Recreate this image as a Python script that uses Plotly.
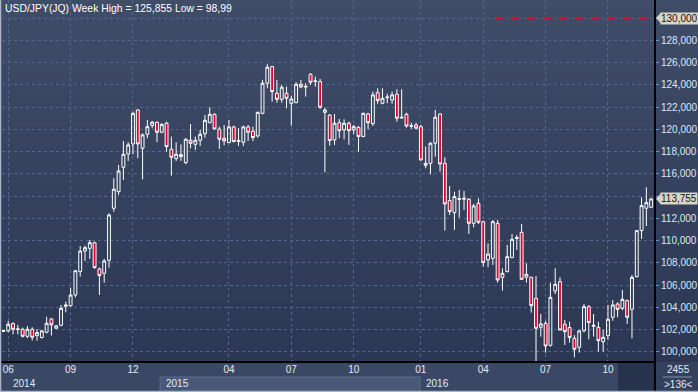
import pandas as pd
import plotly.graph_objects as go

title_text = "USD/JPY(JQ) Week High = 125,855 Low = 98,99"

# Weekly bars (Monday dates) plus three short year-end bars shown by the source
weeks = pd.date_range("2014-05-26", "2016-12-05", freq="7D").strftime("%Y-%m-%d").tolist()
i = weeks.index("2014-12-29") + 1
weeks[i:i] = ["2014-12-31", "2015-01-02"]
j = weeks.index("2015-12-28") + 1
weeks[j:j] = ["2015-12-31"]

opens = [101.85, 101.89, 102.55, 102.02, 102.04, 101.41, 102.04, 101.47, 101.29, 101.77,
         102.97, 102.13, 102.40, 104.10, 104.16, 105.12, 107.22, 109.07, 109.31, 109.82,
         107.46, 107.07, 108.24, 112.91, 114.40, 116.59, 117.79, 118.69, 121.74, 118.30,
         119.56, 120.34, 120.64, 119.74, 120.55, 118.21, 117.37, 117.73, 117.01, 119.02,
         118.66, 119.02, 119.62, 120.60, 121.35, 120.02, 119.20, 118.81, 120.22, 118.92,
         118.84, 120.22, 119.83, 119.41, 121.44, 124.14, 125.64, 123.24, 122.70, 123.24,
         122.34, 122.40, 124.05, 123.80, 124.95, 124.30, 124.29, 121.53, 121.29, 119.05,
         120.60, 119.95, 120.54, 119.95, 120.18, 119.35, 121.38, 120.51, 123.30, 122.34,
         122.85, 122.64, 123.15, 121.02, 121.35, 120.28, 120.39, 120.24, 116.77, 116.95,
         118.75, 121.38, 116.95, 113.60, 112.52, 113.70, 113.72, 113.72, 111.56, 113.36,
         111.70, 108.27, 108.42, 111.56, 106.71, 107.22, 108.50, 110.20, 110.75, 106.71,
         106.71, 104.82, 102.22, 102.57, 100.60, 105.48, 106.32, 102.49, 102.19, 101.23,
         100.42, 101.92, 104.07, 102.30, 102.22, 100.93, 101.47, 103.12, 104.31, 103.92,
         104.61, 103.83, 106.77, 110.90, 112.91, 113.00]

highs = [101.98, 102.79, 102.67, 102.43, 102.19, 102.34, 102.22, 102.07, 101.98, 103.17,
         103.03, 102.43, 104.22, 104.52, 105.78, 107.37, 109.52, 109.55, 110.06, 109.91,
         107.58, 108.36, 112.46, 115.60, 116.80, 118.96, 118.84, 121.59, 121.80, 119.65,
         120.84, 120.76, 120.70, 120.55, 120.69, 119.35, 118.84, 118.66, 119.20, 120.48,
         119.35, 119.95, 121.29, 121.98, 121.44, 120.24, 120.39, 120.84, 120.34, 120.10,
         120.34, 120.39, 120.24, 121.59, 124.44, 125.85, 125.70, 124.44, 123.99, 123.84,
         123.03, 124.23, 124.44, 124.14, 125.04, 124.74, 124.53, 121.95, 121.38, 121.38,
         120.93, 120.90, 120.70, 120.40, 120.30, 121.50, 121.48, 123.39, 123.69, 123.69,
         123.20, 123.39, 123.60, 123.60, 121.50, 120.60, 120.60, 120.40, 118.45, 118.85,
         121.74, 121.44, 117.49, 114.91, 114.40, 114.56, 114.47, 113.81, 113.30, 113.81,
         111.80, 109.76, 111.86, 111.86, 107.52, 109.61, 110.60, 110.51, 111.50, 107.97,
         106.77, 106.83, 103.41, 102.80, 106.23, 107.52, 106.71, 102.88, 102.72, 101.53,
         101.98, 104.31, 104.22, 103.41, 102.72, 101.98, 104.22, 104.67, 104.46, 105.57,
         104.73, 106.92, 110.96, 113.90, 114.80, 113.80]

lows = [101.80, 101.77, 101.59, 101.59, 101.29, 101.23, 101.02, 101.02, 101.23, 101.68,
        101.47, 102.07, 102.31, 103.56, 104.07, 104.91, 106.77, 108.18, 108.36, 107.46,
        105.12, 106.23, 107.58, 112.60, 114.11, 115.45, 117.16, 117.76, 117.40, 115.51,
        119.20, 120.10, 118.84, 119.65, 117.99, 115.84, 117.16, 117.16, 116.86, 118.30,
        118.15, 118.51, 119.26, 120.55, 119.98, 118.24, 118.57, 118.75, 118.84, 118.51,
        118.51, 118.96, 118.96, 119.26, 121.35, 123.69, 122.49, 122.40, 122.40, 121.90,
        120.33, 122.34, 123.69, 122.94, 123.99, 123.84, 121.83, 116.14, 118.54, 118.60,
        119.20, 119.10, 118.60, 119.55, 118.00, 119.30, 120.00, 120.30, 122.30, 122.25,
        122.34, 122.30, 120.69, 120.95, 120.15, 120.05, 120.00, 117.19, 116.50, 115.96,
        117.55, 116.20, 110.90, 112.31, 110.96, 112.07, 112.76, 110.60, 111.20, 111.50,
        107.67, 107.61, 107.82, 106.23, 105.51, 107.15, 108.40, 109.16, 106.47, 106.23,
        103.53, 98.99, 101.38, 99.94, 100.48, 105.21, 101.92, 100.63, 100.84, 99.52,
        99.94, 101.75, 101.14, 101.38, 100.03, 100.03, 101.08, 102.81, 103.12, 103.75,
        102.52, 101.23, 106.70, 110.15, 111.32, 112.98]

closes = [101.92, 102.49, 102.04, 102.07, 101.41, 102.04, 101.32, 101.74, 101.89, 102.58,
          102.43, 102.34, 103.92, 104.22, 105.12, 107.30, 109.07, 109.37, 109.82, 107.58,
          106.86, 108.18, 112.31, 114.62, 116.26, 117.76, 118.60, 121.44, 118.69, 119.50,
          120.24, 120.64, 119.74, 120.45, 118.45, 117.49, 117.76, 117.55, 119.11, 118.75,
          119.02, 119.56, 120.81, 121.35, 120.04, 119.11, 118.96, 120.22, 118.90, 119.00,
          120.22, 119.74, 119.26, 121.53, 124.14, 125.58, 123.39, 122.70, 123.78, 122.79,
          122.73, 124.05, 123.81, 123.86, 124.23, 124.35, 121.98, 121.74, 118.99, 120.55,
          119.88, 120.55, 119.88, 120.24, 119.35, 121.44, 120.60, 123.09, 122.58, 122.79,
          122.90, 123.09, 121.00, 121.08, 120.30, 120.32, 120.10, 117.25, 116.95, 118.75,
          121.09, 116.89, 113.30, 112.61, 113.96, 113.78, 113.80, 111.56, 113.12, 111.65,
          108.03, 108.80, 111.70, 106.47, 107.07, 108.56, 110.12, 110.28, 106.53, 106.98,
          104.16, 102.13, 102.52, 100.54, 104.91, 106.08, 101.98, 101.83, 101.29, 100.24,
          101.89, 104.07, 102.64, 102.40, 101.02, 101.32, 102.94, 104.22, 103.83, 104.73,
          103.12, 106.71, 110.90, 113.15, 113.42, 113.755]

month_ticks = ["2014-06-02", "2014-09-01", "2014-12-01", "2015-04-06", "2015-07-06",
               "2015-10-05", "2016-01-04", "2016-04-04", "2016-07-04", "2016-10-03"]
month_labels = ["06", "09", "12", "04", "07", "10", "01", "04", "07", "10"]
year_labels = ["2014", "2015", "2016"]
price_ticks = [100, 102, 104, 106, 108, 110, 112, 114, 116, 118, 120, 122, 124, 126, 128, 130]
# 114 and 130 are covered by the price-marker boxes in the original
price_tick_labels = ["100,000", "102,000", "104,000", "106,000", "108,000", "110,000",
                     "112,000", "", "116,000", "118,000", "120,000", "122,000",
                     "124,000", "126,000", "128,000", ""]
limit_level = 130.0
limit_label = "130,000"
last_price = closes[-1]
last_label = "113,755"
corner_top = "2455"
corner_bottom = ">136<"

FONT = "Arial"
W, H = 698, 392
ML, MR, MT, MB = 2, 43, 0, 30
PW = W - ML - MR
PH = H - MT - MB


def px_x(px):
    return (px - ML) / PW


def px_y(py):
    return (H - MB - py) / PH


fig = go.Figure()
fig.add_trace(go.Candlestick(
    x=weeks, open=opens, high=highs, low=lows, close=closes,
    increasing=dict(line=dict(color="#ffffff", width=1), fillcolor="rgba(0,0,0,0)"),
    decreasing=dict(line=dict(color="#ffffff", width=1), fillcolor="#e0002e"),
    whiskerwidth=0, hoverinfo="skip", showlegend=False,
))

shapes = []
# vertical gradient background
top_c = (64, 77, 105)
bot_c = (43, 55, 83)
n = 60
for k in range(n):
    t = (k + 0.5) / n
    c = tuple(round(bot_c[m] + (top_c[m] - bot_c[m]) * t) for m in range(3))
    shapes.append(dict(type="rect", xref="paper", yref="paper", layer="below",
                       x0=px_x(-2), x1=px_x(W + 2), y0=k / n, y1=(k + 1) / n + 0.002,
                       fillcolor="rgb(%d,%d,%d)" % c, line=dict(width=0)))
# bottom axis bands
shapes.append(dict(type="rect", xref="paper", yref="paper", layer="below",
                   x0=px_x(-2), x1=1, y0=px_y(H + 2), y1=0,
                   fillcolor="#3a4866", line=dict(width=0)))
shapes.append(dict(type="rect", xref="paper", yref="paper", layer="below",
                   x0=px_x(160), x1=px_x(420), y0=px_y(H + 2), y1=px_y(377),
                   fillcolor="#4a5877", line=dict(color="#5e6c8a", width=1)))
shapes.append(dict(type="rect", xref="paper", yref="paper", layer="below",
                   x0=px_x(618), x1=1, y0=px_y(H + 2), y1=px_y(363),
                   fillcolor="#27324d", line=dict(width=0)))
shapes.append(dict(type="rect", xref="paper", yref="paper", layer="below",
                   x0=1, x1=px_x(W + 2), y0=px_y(H + 2), y1=0,
                   fillcolor="#34415e", line=dict(width=0)))
# frame lines
shapes.append(dict(type="line", xref="paper", yref="paper", x0=1, x1=1,
                   y0=px_y(H), y1=1, line=dict(color="#000000", width=2)))
shapes.append(dict(type="line", xref="paper", yref="paper", x0=px_x(0), x1=1,
                   y0=0, y1=0, line=dict(color="#000000", width=2)))
shapes.append(dict(type="line", xref="paper", yref="paper", x0=px_x(0.5), x1=px_x(0.5),
                   y0=px_y(H), y1=1, line=dict(color="#aab4c6", width=1.5)))
shapes.append(dict(type="line", xref="paper", yref="paper", x0=px_x(0), x1=px_x(W),
                   y0=px_y(H - 0.5), y1=px_y(H - 0.5), line=dict(color="#aab4c6", width=1.5)))
shapes.append(dict(type="line", xref="paper", yref="paper", x0=px_x(663), x1=px_x(692),
                   y0=px_y(377), y1=px_y(377), line=dict(color="#8190aa", width=1)))
# red dashed limit line
shapes.append(dict(type="line", xref="paper", yref="y", x0=px_x(495), x1=px_x(648),
                   y0=limit_level, y1=limit_level,
                   line=dict(color="#d4102c", width=2, dash="8px,8px")))
# price marker arrows
for lvl in (limit_level, last_price):
    shapes.append(dict(type="path", xref="paper", yref="y",
                       path="M %f,%f L %f,%f L %f,%f Z" % (px_x(656), lvl, px_x(661), lvl + 0.5,
                                                          px_x(661), lvl - 0.5),
                       fillcolor="#d9d5c4", line=dict(width=0)))

annotations = [
    dict(text=title_text, xref="paper", yref="paper", x=px_x(3), y=1, yshift=-1,
         xanchor="left", yanchor="top", showarrow=False,
         font=dict(family=FONT, size=10.4, color="#ffffff")),
]
for lvl, lab in ((limit_level, limit_label), (last_price, last_label)):
    annotations.append(dict(text=lab, xref="paper", yref="y", x=px_x(660), y=lvl,
                            xanchor="left", yanchor="middle", showarrow=False,
                            bgcolor="#d9d5c4", borderpad=0,
                            font=dict(family=FONT, size=10, color="#151515")))
for lab, pxl in zip(year_labels, (11, 164, 424)):
    annotations.append(dict(text=lab, xref="paper", yref="paper", x=px_x(pxl), y=px_y(383),
                            xanchor="left", yanchor="middle", showarrow=False,
                            font=dict(family=FONT, size=10, color="#e3eaf5")))
annotations.append(dict(text=corner_top, xref="paper", yref="paper", x=px_x(678), y=px_y(369),
                        xanchor="center", yanchor="middle", showarrow=False,
                        font=dict(family=FONT, size=10, color="#e3eaf5")))
annotations.append(dict(text=corner_bottom, xref="paper", yref="paper", x=px_x(678), y=px_y(384),
                        xanchor="center", yanchor="middle", showarrow=False,
                        font=dict(family=FONT, size=10, color="#e3eaf5")))

fig.update_layout(
    width=W, height=H, margin=dict(l=ML, r=MR, t=MT, b=MB, pad=0),
    paper_bgcolor="#2f3b57", plot_bgcolor="rgba(0,0,0,0)",
    boxgap=0.15,
    shapes=shapes, annotations=annotations, showlegend=False,
    xaxis=dict(type="category", range=[-0.3, 135.8], rangeslider=dict(visible=False),
               tickmode="array", tickvals=month_ticks, ticktext=month_labels,
               showgrid=True, gridcolor="#56668a", griddash="3px,3px", gridwidth=1,
               ticks="", showline=False, zeroline=False,
               tickfont=dict(family=FONT, size=10, color="#e3eaf5")),
    yaxis=dict(side="right", range=[99.10, 131.62], tickmode="array", tickvals=price_ticks,
               ticktext=price_tick_labels, showgrid=True, gridcolor="#56668a",
               griddash="3px,3px", gridwidth=1, ticks="outside", ticklen=3,
               tickcolor="#5d95e0", showline=False, zeroline=False,
               tickfont=dict(family=FONT, size=10, color="#dde7f6")),
)

fig.write_html(
    "out.html",
    config={"displayModeBar": False, "staticPlot": True},
    post_script="document.body.style.margin='0';document.body.style.overflow='hidden';"
                "document.documentElement.style.overflow='hidden';",
)
